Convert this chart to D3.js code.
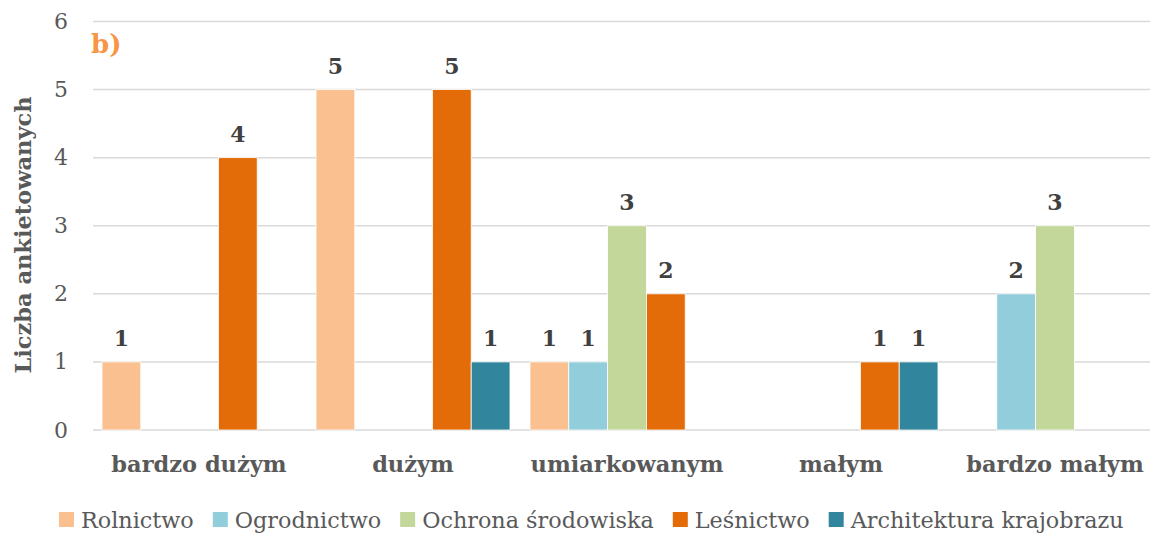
<!DOCTYPE html>
<html>
<head>
<meta charset="utf-8">
<script src="https://cdn.jsdelivr.net/npm/d3@7"></script>
<style>
  body { margin: 0; background: #fff; }
  text { font-family: "DejaVu Serif", serif; }
</style>
</head>
<body>
<script>
// data
var categories = ["bardzo dużym", "dużym", "umiarkowanym", "małym", "bardzo małym"];
var series = ["Rolnictwo", "Ogrodnictwo", "Ochrona środowiska", "Leśnictwo", "Architektura krajobrazu"];
var colors = ["#FAC090", "#92CDDC", "#C4D79B", "#E36C09", "#31859C"];
// values per series, in category order (0 = no bar)
var rolnictwo = [1, 5, 1, 0, 0];
var ogrodnictwo = [0, 0, 1, 0, 2];
var ochrona = [0, 0, 3, 0, 3];
var lesnictwo = [4, 5, 2, 1, 0];
var architektura = [0, 1, 0, 1, 0];
var yTicks = [0, 1, 2, 3, 4, 5, 6];

var values = [rolnictwo, ogrodnictwo, ochrona, lesnictwo, architektura];

var width = 1150, height = 533;

var svg = d3.select("body").append("svg")
  .attr("width", width)
  .attr("height", height);

// scales
var x0 = d3.scaleBand()
  .domain(categories)
  .range([92, 1162]);

var x1 = d3.scaleBand()
  .domain(series)
  .range([10, x0.bandwidth() - 10]);

var y = d3.scaleLinear()
  .domain([0, 6])
  .range([430, 21.5]);

// gridlines
svg.append("g")
  .selectAll("line")
  .data(yTicks)
  .enter().append("line")
  .attr("x1", 93)
  .attr("x2", 1162)
  .attr("y1", function (d) { return y(d); })
  .attr("y2", function (d) { return y(d); })
  .attr("stroke", "#d9d9d9")
  .attr("stroke-width", 1.5);

// y axis labels
var yAxis = d3.axisLeft(y).tickValues(yTicks).tickFormat(d3.format("d")).tickSize(0).tickPadding(0);
var gy = svg.append("g")
  .attr("transform", "translate(68,0)")
  .call(yAxis);
gy.select(".domain").remove();
gy.selectAll("text")
  .attr("fill", "#595959")
  .style("font-family", "'DejaVu Serif', serif")
  .style("font-size", "22px");

// bars
var flat = [];
categories.forEach(function (c, i) {
  series.forEach(function (s, j) {
    if (values[j][i] > 0) flat.push({ cat: c, ser: s, idx: j, value: values[j][i] });
  });
});

svg.append("g")
  .selectAll("rect")
  .data(flat)
  .enter().append("rect")
  .attr("x", function (d) { return x0(d.cat) + x1(d.ser); })
  .attr("y", function (d) { return y(d.value); })
  .attr("width", x1.bandwidth())
  .attr("height", function (d) { return y(0) - y(d.value); })
  .attr("fill", function (d) { return colors[d.idx]; })
  .attr("stroke", "#fff")
  .attr("stroke-width", 0.8);

// data labels
svg.append("g")
  .selectAll("text")
  .data(flat)
  .enter().append("text")
  .attr("x", function (d) { return x0(d.cat) + x1(d.ser) + x1.bandwidth() / 2; })
  .attr("y", function (d) { return y(d.value) - 16; })
  .attr("text-anchor", "middle")
  .attr("fill", "#404040")
  .style("font-size", "22px")
  .style("font-weight", "bold")
  .text(function (d) { return d.value; });

// category labels
svg.append("g")
  .selectAll("text")
  .data(categories)
  .enter().append("text")
  .attr("x", function (d) { return x0(d) + x0.bandwidth() / 2; })
  .attr("y", 472)
  .attr("text-anchor", "middle")
  .attr("fill", "#595959")
  .style("font-size", "22.5px")
  .style("font-weight", "bold")
  .text(function (d) { return d; });

// y axis title
svg.append("text")
  .attr("transform", "translate(31,235) rotate(-90)")
  .attr("text-anchor", "middle")
  .attr("fill", "#595959")
  .style("font-size", "22.5px")
  .style("font-weight", "bold")
  .text("Liczba ankietowanych");

// panel label
svg.append("text")
  .attr("x", 91)
  .attr("y", 53)
  .attr("fill", "#F79646")
  .style("font-size", "26px")
  .style("font-weight", "bold")
  .text("b)");

// legend
var legend = svg.append("g");
var lx = 59;
series.forEach(function (s, i) {
  var item = legend.append("g").attr("transform", "translate(" + lx + ",0)");
  item.append("rect")
    .attr("x", 0)
    .attr("y", 512)
    .attr("width", 15)
    .attr("height", 15)
    .attr("fill", colors[i]);
  var t = item.append("text")
    .attr("x", 22)
    .attr("y", 528)
    .attr("fill", "#595959")
    .style("font-size", "22.3px")
    .text(s);
  lx += 22 + t.node().getComputedTextLength() + 19;
});
</script>
</body>
</html>
